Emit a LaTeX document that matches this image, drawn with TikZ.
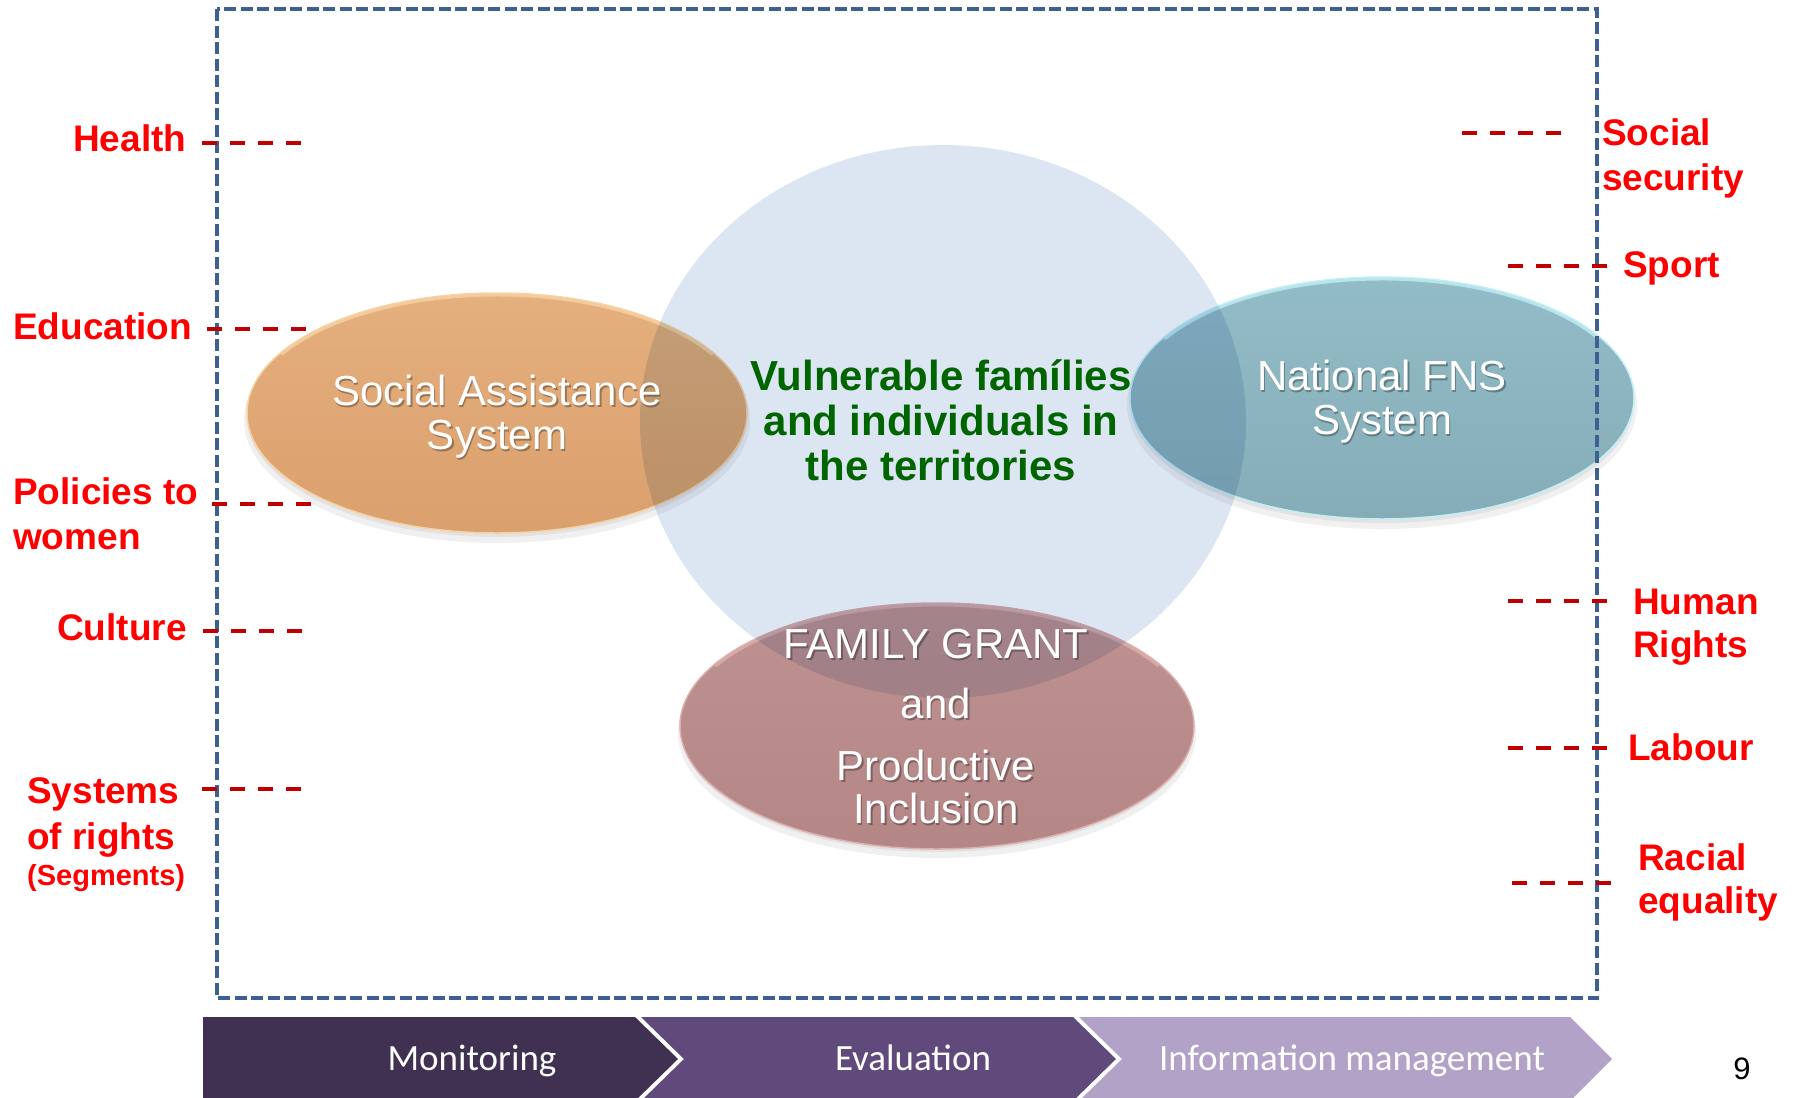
\documentclass[tikz,border=0pt]{standalone}
\usepackage{fontspec}
\setmainfont{Liberation Sans}
\newfontfamily\chevfont{Carlito}
\usetikzlibrary{shapes.geometric}
\definecolor{labred}{HTML}{FF0000}
\definecolor{dashred}{HTML}{C00000}
\definecolor{framec}{HTML}{3B6194}
\definecolor{coregreen}{HTML}{006400}
\definecolor{coreblue}{HTML}{DCE6F2}
\definecolor{monc}{HTML}{403152}
\definecolor{evac}{HTML}{604A7B}
\definecolor{infc}{HTML}{B3A2C7}
\definecolor{orTop}{HTML}{E5AF7E}
\definecolor{orMid}{HTML}{DEA574}
\definecolor{orBot}{HTML}{DAA06D}
\definecolor{orRim}{HTML}{F7D2A4}
\definecolor{tlTop}{HTML}{92BCC6}
\definecolor{tlMid}{HTML}{89B0BA}
\definecolor{tlBot}{HTML}{85ADB8}
\definecolor{tlRim}{HTML}{C2EEF6}
\definecolor{pkTop}{HTML}{BF9292}
\definecolor{pkMid}{HTML}{B88B8B}
\definecolor{pkBot}{HTML}{B48686}
\definecolor{pkRim}{HTML}{DDAFAF}
\newcommand\ovaltext[4]{%
  \node[wshadow] (#1s) at (#2,#3) {#4};
  \node[wtext] (#1) at (#2,#3) {#4};}
\begin{document}
\begin{tikzpicture}[x=1pt,y=-1pt,
  lbl/.style={text=labred, font=\fontsize{37}{45}\selectfont\bfseries, anchor=base west, inner sep=0pt},
  lblsmall/.style={text=labred, font=\fontsize{29}{35}\selectfont\bfseries, anchor=base west, inner sep=0pt},
  rdash/.style={draw=dashred, line width=3.5pt, dash pattern=on 15pt off 13pt},
  framestyle/.style={draw=framec, line width=3.5pt, dash pattern=on 12pt off 4.5pt},
  oval/.style={ellipse, inner sep=0pt, outer sep=0pt, line width=1.5pt},
  shad/.style={fill=black, opacity=0.06},
  rim/.style={line width=3pt, opacity=0.8, line cap=round},
  wtext/.style={text=white, anchor=base, inner sep=0pt, font=\fontsize{42}{45}\selectfont},
  wshadow/.style={text=black, opacity=0.3, anchor=base, inner sep=0pt, xshift=1.5pt, yshift=-2.5pt, font=\fontsize{42}{45}\selectfont},
  coretext/.style={text=coregreen, anchor=base, inner sep=0pt, font=\fontsize{42}{45}\selectfont\bfseries},
  chevtext/.style={text=white, anchor=base, inner sep=0pt, font=\chevfont\fontsize{37}{44}\selectfont}]
\useasboundingbox (0,0) rectangle (1797,1098);

% soft shadows under the ovals
\fill[shad] (497,420) ellipse [x radius=253, y radius=123];
\fill[shad] (497,417) ellipse [x radius=250, y radius=120];
\fill[shad] (1382,405) ellipse [x radius=255, y radius=124];
\fill[shad] (1382,402) ellipse [x radius=252, y radius=121];
\fill[shad] (937,733) ellipse [x radius=259, y radius=125];
\fill[shad] (937,730) ellipse [x radius=256, y radius=122];

% ovals
\node[oval, minimum width=500pt, minimum height=240pt, top color=orTop, middle color=orMid, bottom color=orBot, draw=orRim] (sas) at (497,413) {};
\node[oval, minimum width=504pt, minimum height=242pt, top color=tlTop, middle color=tlMid, bottom color=tlBot, draw=tlRim] (fns) at (1382,398) {};
\node[oval, minimum width=514pt, minimum height=246pt, top color=pkTop, middle color=pkMid, bottom color=pkBot, draw=pkRim] (fam) at (937,726) {};
% glossy top rims
\draw[rim, orRim] ([shift={(150:248 and -118)}]sas.center) arc[start angle=150, end angle=30, x radius=248, y radius=-118];
\draw[rim, tlRim] ([shift={(150:250 and -119)}]fns.center) arc[start angle=150, end angle=30, x radius=250, y radius=-119];
\draw[rim, pkRim] ([shift={(150:255 and -121)}]fam.center) arc[start angle=150, end angle=30, x radius=255, y radius=-121];

% central circle
\node[ellipse, inner sep=0pt, minimum width=606pt, minimum height=553pt, fill=coreblue, blend mode=multiply] (core) at (943,421.5) {};

% frame
\coordinate (fra) at (217,9);
\coordinate (frb) at (1597,998);
\draw[framestyle] (fra) rectangle (frb);

% red dashed ties
\coordinate (h1) at (202,143); \coordinate (h2) at (302,143);
\coordinate (e1) at (207,329); \coordinate (e2) at (306,329);
\coordinate (p1) at (212,504); \coordinate (p2) at (312,504);
\coordinate (c1) at (203,631); \coordinate (c2) at (303,631);
\coordinate (s1) at (202,789); \coordinate (s2) at (302,789);
\coordinate (ss1) at (1462,133); \coordinate (ss2) at (1562,133);
\coordinate (sp1) at (1508,266); \coordinate (sp2) at (1608,266);
\coordinate (hr1) at (1508,601); \coordinate (hr2) at (1608,601);
\coordinate (lb1) at (1508,748); \coordinate (lb2) at (1608,748);
\coordinate (re1) at (1512,883); \coordinate (re2) at (1612,883);
\foreach \a/\b in {h1/h2,e1/e2,p1/p2,c1/c2,s1/s2,ss1/ss2,sp1/sp2,hr1/hr2,lb1/lb2,re1/re2}
  \draw[rdash] (\a) -- (\b);

% left labels
\node[lbl] (lhealth) at (73,151) {Health};
\node[lbl] (leduc) at (13,339) {Education};
\node[lbl] (lpol1) at (13,504) {Policies to};
\node[lbl] (lpol2) at (13,549) {women};
\node[lbl] (lcult) at (57,640) {Culture};
\node[lbl] (lsys1) at (27,803) {Systems};
\node[lbl] (lsys2) at (27,849) {of rights};
\node[lblsmall] (lsys3) at (27,885) {(Segments)};

% right labels
\node[lbl] (rsoc1) at (1602,145) {Social};
\node[lbl] (rsoc2) at (1602,190) {security};
\node[lbl] (rsport) at (1623,277) {Sport};
\node[lbl] (rhum1) at (1633,614) {Human};
\node[lbl] (rhum2) at (1633,657) {Rights};
\node[lbl] (rlab) at (1628,760) {Labour};
\node[lbl] (rrac1) at (1638,870) {Racial};
\node[lbl] (rrac2) at (1638,913) {equality};

% oval texts
\ovaltext{tsas1}{497}{405}{Social Assistance}
\ovaltext{tsas2}{497}{449}{System}
\ovaltext{tfns1}{1382}{390}{National FNS}
\ovaltext{tfns2}{1382}{434}{System}
\ovaltext{tfam1}{936}{658}{FAMILY GRANT}
\ovaltext{tfam2}{936}{718}{and}
\ovaltext{tfam3}{936}{780}{Productive}
\ovaltext{tfam4}{936}{823}{Inclusion}

% core text
\node[coretext] (core1) at (941,390) {Vulnerable famílies};
\node[coretext] (core2) at (941,435) {and individuals in};
\node[coretext] (core3) at (941,480) {the territories};

% bottom chevrons
\fill[monc] (203,1017) -- (635,1017) -- (678,1059) -- (635,1101) -- (203,1101) -- cycle;
\fill[evac] (641,1017) -- (1073,1017) -- (1116,1059) -- (1073,1101) -- (641,1101) -- (684,1059) -- cycle;
\fill[infc] (1079,1017) -- (1570,1017) -- (1612,1059) -- (1570,1101) -- (1079,1101) -- (1122,1059) -- cycle;
\node[chevtext] (tmon) at (472,1070) {Monitoring};
\node[chevtext] (teva) at (913,1070) {Evaluation};
\node[chevtext] (tinf) at (1352,1070) {Information management};

% page number
\node[anchor=base, inner sep=0pt, font=\fontsize{31}{36}\selectfont] (pnum) at (1742,1079) {9};
\end{tikzpicture}
\end{document}
